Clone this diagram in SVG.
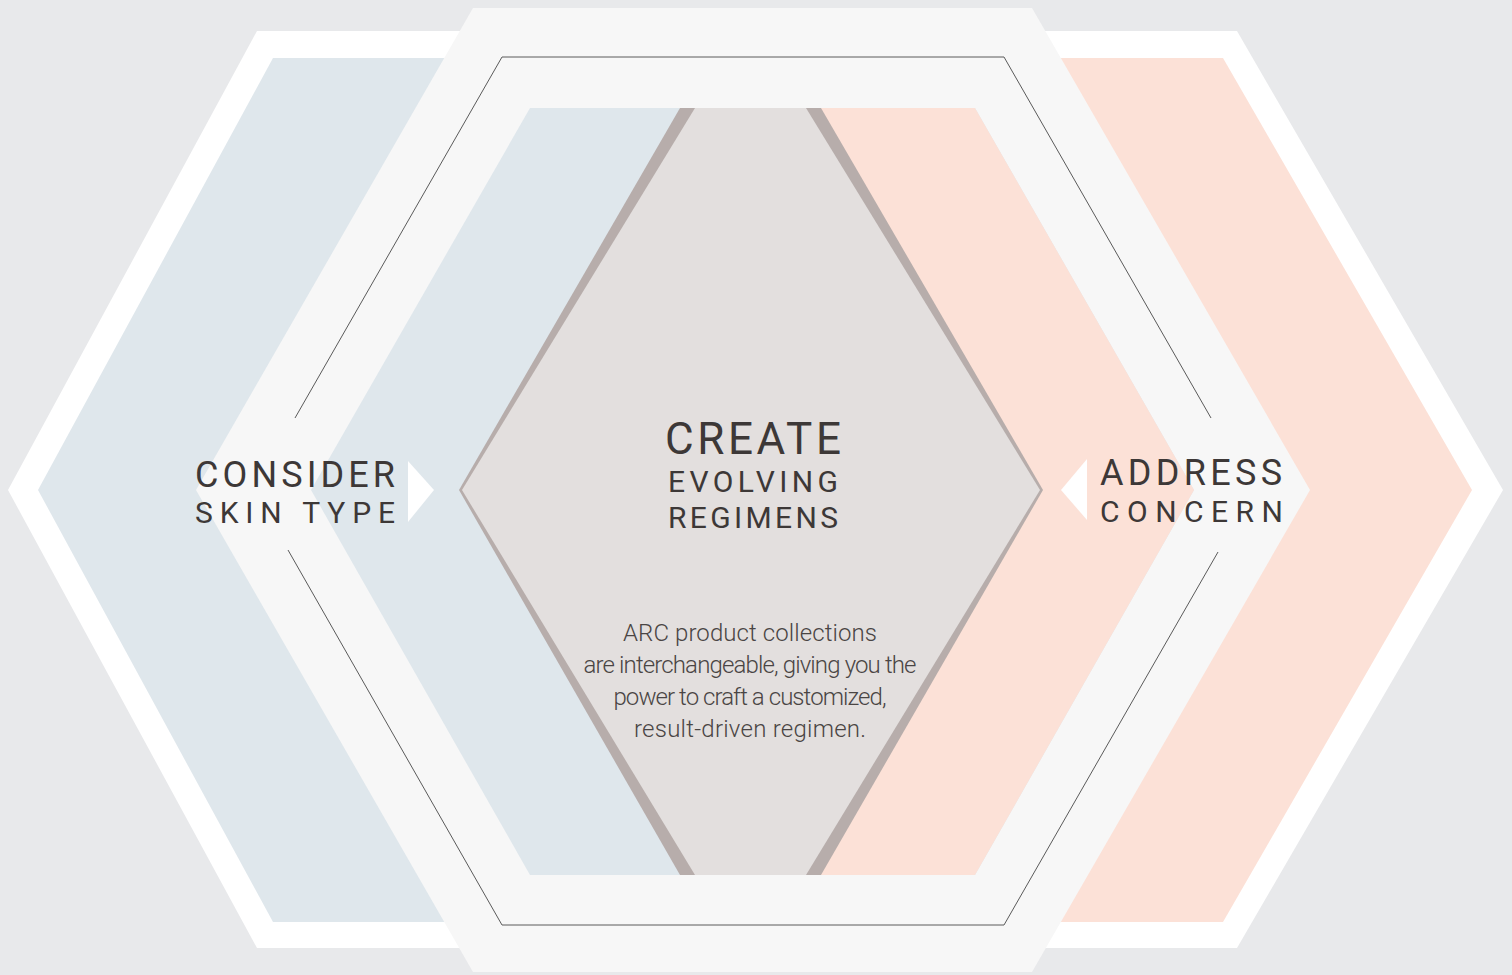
<svg xmlns="http://www.w3.org/2000/svg" width="1512" height="975" viewBox="0 0 1512 975">
<style>
.t{font-family:Roboto,"Liberation Sans",sans-serif;fill:#3d3837}
.h{font-size:36px}
.s{font-size:30px}
.b{font-family:Roboto,"Liberation Sans",sans-serif;font-weight:300;font-size:24px;fill:#4a4544}
.line{fill:none;stroke:#5a5a5a;stroke-width:1}
</style>
<rect width="1512" height="975" fill="#e8e9eb"/>
<g id="left-hex">
<polygon points="257,31 900,31 900,948 257,948 8,490" fill="#ffffff"/>
<polygon points="273,58 900,58 900,922 273,922 38,490" fill="#dfe7ec"/>
</g>
<g id="right-hex">
<polygon points="600,31 1237,31 1503,490 1237,948 600,948" fill="#ffffff"/>
<polygon points="600,58 1223,58 1472,490 1223,922 600,922" fill="#fce1d7"/>
</g>
<g id="center-hex">
<polygon points="473,8 1032,8 1310,490 1032,972 473,972 196,490" fill="#f7f7f7"/>
<polygon points="530,108 975,108 1194,490 975,875 530,875 311,490" fill="#dfe7ec"/>
<polygon points="750,108 975,108 1194,490 975,875 750,875" fill="#fce1d7"/>
<polygon points="680,108 821,108 1043,490 821,875 680,875 459,490" fill="#b7adab"/>
<polygon points="695,108 806,108 1040,490 806,875 695,875 462,490" fill="#e3dfde"/>
</g>
<g id="connectors">
<polyline class="line" points="295,418 502,57 1004,57 1211,418"/>
<polyline class="line" points="288,550 502,925 1004,925 1218,552"/>
<polygon points="408,461 434,490 408,522" fill="#ffffff"/>
<polygon points="1087,459 1061,490 1087,520" fill="#ffffff"/>
</g>
<g id="consider">
<text class="t h" x="195" y="487" textLength="200" lengthAdjust="spacing">CONSIDER</text>
<text class="t s" x="195" y="523" textLength="200" lengthAdjust="spacing">SKIN TYPE</text>
</g>
<g id="address">
<text class="t h" x="1100" y="485" textLength="182" lengthAdjust="spacing">ADDRESS</text>
<text class="t s" x="1100" y="522" textLength="183" lengthAdjust="spacing">CONCERN</text>
</g>
<g id="create">
<text class="t" font-size="44" x="665" y="454" textLength="176" lengthAdjust="spacing">CREATE</text>
<text class="t s" x="668" y="492" textLength="170" lengthAdjust="spacing">EVOLVING</text>
<text class="t s" x="668" y="528" textLength="170" lengthAdjust="spacing">REGIMENS</text>
<text class="b" x="750" y="641" text-anchor="middle" textLength="254" lengthAdjust="spacing">ARC product collections</text>
<text class="b" x="750" y="673" text-anchor="middle" textLength="333" lengthAdjust="spacing">are interchangeable, giving you the</text>
<text class="b" x="750" y="705" text-anchor="middle" textLength="273" lengthAdjust="spacing">power to craft a customized,</text>
<text class="b" x="750" y="737" text-anchor="middle" textLength="232" lengthAdjust="spacing">result-driven regimen.</text>
</g>
</svg>
